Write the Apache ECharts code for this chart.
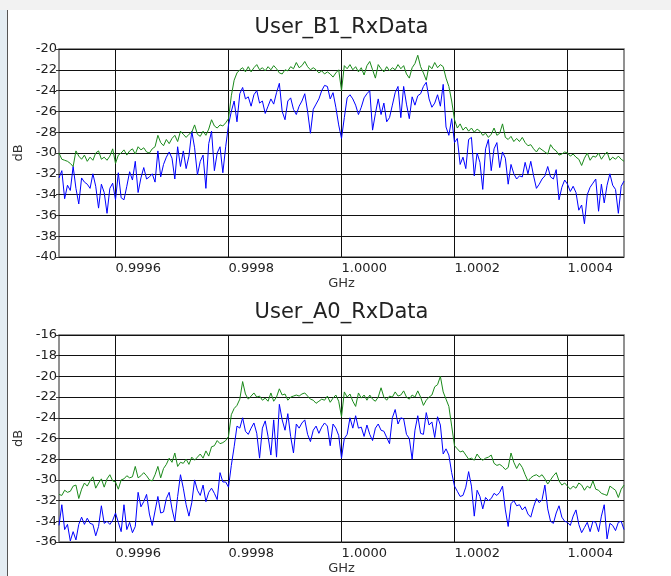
<!DOCTYPE html>
<html><head><meta charset="utf-8">
<script src="https://cdn.jsdelivr.net/npm/echarts@6/dist/echarts.min.js"></script>
<style>html,body{margin:0;padding:0;background:#fff}#c{width:671px;height:576px}</style>
</head><body><div id="c"></div>
<script>
// sweep grid: 201 points from 0.9995 GHz, 5 kHz step
const freqStartGHz = 0.9995;
const freqStepGHz = 0.000005;
const pointCount = 201;
const xTicks = [0.9996, 0.9998, 1.0000, 1.0002, 1.0004];
const titles = ['User_B1_RxData', 'User_A0_RxData'];
const yRanges = [[-40, -20], [-36, -16]];

const b1Green = [
-30.0,-30.6,-30.7,-30.8,-31.0,-31.3,-29.8,-30.3,-30.6,-30.2,
-30.8,-30.4,-30.7,-30.0,-29.8,-30.6,-30.4,-30.7,-30.3,-29.6,
-31.0,-30.2,-30.0,-29.7,-30.2,-29.8,-29.6,-30.1,-29.4,-29.7,
-29.5,-29.9,-30.0,-29.6,-29.4,-28.3,-29.0,-29.3,-28.7,-29.1,
-28.6,-28.3,-28.9,-27.9,-28.2,-28.5,-28.2,-28.0,-27.3,-28.2,
-28.4,-27.9,-28.3,-27.7,-26.8,-27.4,-27.6,-27.3,-27.4,-27.1,
-26.7,-24.5,-23.0,-22.3,-22.0,-21.8,-22.2,-21.7,-22.2,-21.8,
-21.5,-22.0,-21.8,-22.1,-21.7,-22.0,-21.6,-21.9,-22.3,-22.4,
-22.0,-22.1,-21.7,-21.9,-21.3,-21.8,-21.6,-21.2,-21.7,-22.0,
-21.8,-22.0,-22.3,-22.1,-22.4,-22.2,-22.4,-22.7,-22.3,-22.0,
-24.0,-21.6,-21.9,-21.5,-22.0,-21.7,-22.2,-21.8,-22.5,-21.6,
-21.2,-22.0,-22.8,-21.5,-21.9,-22.2,-21.7,-22.1,-21.8,-22.0,
-21.5,-21.9,-21.6,-22.4,-22.8,-21.8,-21.4,-20.6,-21.7,-22.3,
-23.0,-21.6,-21.9,-21.3,-21.8,-21.5,-21.7,-22.8,-23.6,-25.0,
-26.8,-27.6,-27.2,-27.8,-27.5,-27.9,-27.6,-28.0,-27.7,-27.9,
-28.3,-28.1,-28.5,-28.2,-27.6,-28.3,-28.1,-27.2,-28.5,-28.7,
-28.4,-28.9,-28.6,-28.9,-28.5,-29.0,-29.3,-29.2,-29.6,-29.9,
-29.5,-29.7,-29.9,-30.1,-29.2,-29.6,-29.8,-30.2,-30.1,-29.9,
-30.0,-30.3,-30.1,-30.4,-30.6,-31.2,-30.5,-30.0,-30.7,-30.3,
-30.4,-30.0,-30.6,-30.2,-29.9,-30.7,-30.4,-30.6,-30.3,-30.6,
-30.8];

const b1Blue = [
-32.4,-31.7,-34.4,-33.1,-33.6,-31.3,-33.4,-34.9,-32.4,-32.8,
-33.0,-33.4,-32.0,-33.2,-35.3,-33.0,-33.8,-35.8,-33.4,-32.9,
-34.5,-31.9,-34.3,-34.5,-33.2,-31.8,-32.6,-30.8,-33.8,-32.4,
-31.4,-32.5,-32.3,-32.0,-32.8,-29.8,-32.3,-31.1,-30.4,-29.9,
-30.5,-32.5,-29.4,-31.3,-29.8,-31.5,-30.3,-27.9,-29.5,-32.1,
-30.8,-30.2,-33.4,-29.1,-27.9,-31.7,-30.0,-29.4,-31.9,-29.4,
-27.3,-26.0,-25.0,-27.0,-24.3,-23.7,-24.8,-24.6,-25.5,-24.4,
-24.0,-25.2,-25.0,-26.2,-25.5,-24.8,-25.3,-24.2,-23.3,-26.0,
-26.8,-25.0,-24.7,-25.8,-26.3,-25.5,-25.0,-24.3,-26.0,-28.1,
-25.8,-25.3,-24.8,-24.0,-23.5,-23.6,-24.8,-24.2,-25.6,-27.3,
-28.6,-26.6,-24.7,-24.4,-24.8,-25.4,-26.3,-25.6,-24.7,-24.3,
-24.0,-27.8,-26.2,-24.8,-26.3,-25.2,-27.0,-26.6,-25.4,-24.2,
-23.6,-26.6,-23.6,-25.3,-26.7,-24.6,-25.4,-24.5,-24.3,-23.6,
-23.2,-24.8,-25.6,-25.2,-24.4,-25.5,-23.4,-27.5,-28.3,-26.7,
-29.0,-28.6,-31.1,-30.4,-31.5,-28.7,-28.5,-32.2,-30.0,-30.9,
-33.5,-29.6,-28.7,-31.7,-29.6,-29.0,-31.4,-29.9,-30.5,-33.0,
-31.1,-32.0,-32.5,-32.2,-32.3,-30.9,-32.0,-30.8,-32.2,-33.4,
-33.0,-32.5,-32.2,-31.3,-32.3,-32.5,-31.6,-34.5,-33.3,-32.6,
-33.0,-33.7,-33.2,-33.8,-35.5,-35.0,-36.8,-34.0,-33.3,-32.9,
-32.5,-35.6,-33.0,-34.8,-33.1,-32.0,-33.1,-33.5,-35.8,-33.2,
-32.7];

const a0Green = [
-31.4,-31.5,-31.0,-31.2,-31.1,-30.6,-30.5,-31.8,-30.9,-30.3,
-30.6,-30.1,-29.7,-30.8,-30.3,-29.9,-30.7,-29.9,-29.5,-30.1,
-30.2,-30.9,-30.0,-29.9,-29.6,-29.8,-29.7,-28.7,-29.8,-29.6,
-29.3,-29.6,-30.0,-30.1,-29.5,-28.7,-29.8,-28.9,-28.5,-27.9,
-28.3,-27.4,-28.7,-28.3,-28.4,-28.0,-28.5,-27.8,-28.1,-27.8,
-27.5,-27.9,-27.2,-27.7,-26.8,-26.7,-26.2,-26.5,-26.4,-26.2,
-25.8,-23.7,-23.1,-22.8,-22.2,-20.5,-21.7,-22.2,-21.9,-21.6,
-22.0,-21.9,-22.3,-22.1,-22.4,-21.6,-22.4,-22.0,-21.2,-21.8,
-21.7,-22.3,-22.0,-21.9,-21.8,-21.9,-21.7,-21.6,-21.9,-22.2,
-22.3,-22.6,-22.4,-22.2,-22.3,-21.9,-22.5,-22.1,-21.8,-22.4,
-23.9,-21.5,-22.0,-21.7,-22.4,-22.9,-21.6,-22.1,-21.8,-22.3,
-21.8,-22.2,-22.4,-22.0,-21.1,-22.0,-22.3,-21.9,-22.0,-21.5,
-21.9,-21.8,-21.4,-22.0,-22.2,-21.8,-22.0,-21.4,-22.0,-22.8,
-22.3,-22.0,-21.8,-21.0,-20.8,-20.0,-21.5,-22.2,-22.9,-24.8,
-26.7,-27.0,-27.3,-27.2,-27.6,-28.0,-27.9,-28.1,-27.5,-27.9,
-28.1,-27.9,-27.8,-27.6,-28.4,-28.6,-28.5,-28.7,-29.0,-28.8,
-27.4,-28.3,-28.9,-28.4,-28.8,-29.5,-30.1,-29.8,-29.6,-29.5,
-29.7,-29.5,-29.9,-30.4,-30.0,-29.6,-29.3,-30.1,-30.5,-30.3,
-30.6,-30.9,-30.6,-30.8,-30.3,-30.5,-31.0,-30.6,-30.8,-30.1,
-30.9,-31.0,-31.3,-31.4,-31.5,-30.6,-30.8,-31.0,-31.7,-30.9,
-30.5];

const a0Blue = [
-34.4,-32.4,-34.8,-34.3,-35.9,-35.0,-35.8,-34.3,-33.6,-34.3,
-33.7,-34.2,-34.3,-35.4,-34.5,-32.5,-34.2,-34.0,-34.3,-33.9,
-33.2,-34.1,-35.0,-32.4,-34.8,-34.1,-35.1,-34.5,-31.2,-32.6,
-32.1,-31.4,-33.3,-34.4,-33.0,-31.6,-33.2,-33.1,-31.8,-31.2,
-32.8,-34.0,-31.6,-29.5,-30.8,-32.4,-33.5,-32.2,-30.0,-31.0,
-31.5,-30.5,-32.1,-31.2,-30.8,-31.3,-31.9,-29.3,-30.2,-30.2,
-30.7,-28.6,-26.8,-24.8,-25.0,-24.0,-25.3,-25.6,-25.0,-24.5,
-25.5,-27.9,-25.0,-24.3,-25.8,-27.6,-24.2,-27.8,-22.7,-24.2,
-25.2,-23.6,-25.8,-27.4,-24.6,-25.0,-24.5,-24.2,-25.6,-26.3,
-25.2,-24.8,-25.5,-24.9,-24.5,-24.8,-26.7,-24.6,-25.0,-25.7,
-27.9,-26.0,-25.6,-24.0,-25.0,-23.8,-25.0,-24.9,-25.8,-24.7,
-25.6,-26.2,-25.0,-24.6,-25.2,-25.3,-25.9,-26.5,-24.0,-23.2,
-24.6,-24.0,-24.1,-25.6,-26.0,-28.0,-25.2,-23.8,-25.5,-25.6,
-23.5,-24.7,-24.4,-25.9,-23.9,-24.7,-27.5,-27.0,-27.6,-29.3,
-30.6,-31.1,-31.6,-31.5,-30.7,-29.2,-30.6,-33.5,-31.0,-31.6,
-32.8,-31.7,-32.0,-31.8,-31.3,-31.5,-31.2,-30.6,-32.9,-34.5,
-32.3,-32.0,-32.5,-32.4,-32.9,-32.6,-33.3,-33.6,-32.6,-31.8,
-32.2,-31.9,-30.5,-32.8,-34.0,-34.2,-33.2,-32.5,-33.6,-34.0,
-34.1,-34.4,-33.5,-32.9,-34.3,-35.1,-34.6,-34.1,-35.0,-34.0,
-34.1,-35.0,-33.5,-32.4,-35.7,-34.2,-34.4,-34.9,-34.1,-34.0,
-34.8];

const freqs = [];
for (let i = 0; i < pointCount; i++) freqs.push(+(freqStartGHz + i * freqStepGHz).toFixed(6));
const pair = arr => arr.map((v, i) => [freqs[i], v]);

const FONT = '"DejaVu Sans", sans-serif';
const grids = [
  {left: 59, top: 49, width: 565, height: 208},
  {left: 59, top: 335, width: 565, height: 208}
];
const chart = echarts.init(document.getElementById('c'), null, {renderer: 'canvas'});

const xAxes = grids.map((g, k) => ({
  type: 'value', gridIndex: k, min: 0.9995, max: 1.0005,
  name: 'GHz', nameLocation: 'middle', nameGap: 20,
  nameTextStyle: {fontFamily: FONT, fontSize: 13, color: '#333'},
  axisLine: {show: false},
  axisTick: {show: false, customValues: xTicks},
  axisLabel: {customValues: xTicks, formatter: v => v.toFixed(4), align: 'left', margin: 5,
    fontFamily: FONT, fontSize: 13, color: '#222'},
  splitLine: {show: true, lineStyle: {color: '#111', width: 1}}
}));
const yAxes = grids.map((g, k) => ({
  type: 'value', gridIndex: k, min: yRanges[k][0], max: yRanges[k][1], interval: 2,
  name: 'dB', nameLocation: 'middle', nameGap: 30, nameRotate: 90,
  nameTextStyle: {fontFamily: FONT, fontSize: 13, color: '#333'},
  axisLine: {show: false},
  axisTick: {show: true, length: 3, inside: false, lineStyle: {color: '#333'}},
  axisLabel: {margin: 2, fontFamily: FONT, fontSize: 13, color: '#222'},
  splitLine: {show: true, lineStyle: {color: '#111', width: 1}}
}));

const mk = (data, k, color) => ({
  type: 'line', xAxisIndex: k, yAxisIndex: k, data: pair(data),
  showSymbol: false, symbol: 'none', animation: false,
  lineStyle: {color: color, width: 1}, itemStyle: {color: color}
});

chart.setOption({
  animation: false,
  backgroundColor: '#fff',
  grid: grids.map(g => Object.assign({show: true, borderColor: '#6e6e6e', borderWidth: 1.5, backgroundColor: 'transparent'}, g)),
  xAxis: xAxes,
  yAxis: yAxes,
  graphic: [
    {type: 'rect', shape: {x: 0, y: 0, width: 671, height: 10}, style: {fill: '#f2f2f2'}, silent: true},
    {type: 'rect', shape: {x: 0, y: 10, width: 7, height: 566}, style: {fill: '#e4edf3'}, silent: true},
    {type: 'line', shape: {x1: 7.5, y1: 10, x2: 7.5, y2: 576}, style: {stroke: '#555', lineWidth: 1}, silent: true},
    {type: 'text', x: 341.5, y: 28, style: {text: titles[0], font: '21px ' + FONT, fill: '#222', align: 'center', verticalAlign: 'middle'}},
    {type: 'text', x: 341.5, y: 313, style: {text: titles[1], font: '21px ' + FONT, fill: '#222', align: 'center', verticalAlign: 'middle'}}
  ],
  series: [
    mk(b1Blue, 0, '#0000ff'),
    mk(b1Green, 0, '#1a8a1a'),
    mk(a0Blue, 1, '#0000ff'),
    mk(a0Green, 1, '#1a8a1a')
  ]
});
</script>
</body></html>
